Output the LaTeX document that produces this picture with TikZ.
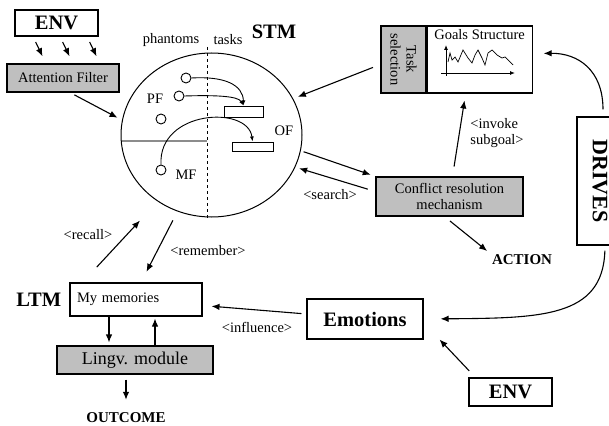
\documentclass[tikz,border=0pt]{standalone}
\usepackage{fontspec}
\setmainfont{Liberation Serif}
\usetikzlibrary{positioning, shapes.geometric, arrows.meta}
\definecolor{filler}{rgb}{0.75,0.75,0.75}
\definecolor{rule}{rgb}{0.55,0.55,0.55}

\begin{document}
\begin{tikzpicture}[
  x=1pt, y=-1pt,
  every node/.style={
    inner sep=0pt,
    font=\fontsize{14.5}{16}\selectfont,
  },
  box/.style={draw, line width=1.1pt, rectangle},
  greybox/.style={box, fill=filler},
  title/.style={font=\fontsize{20.5}{22}\selectfont\bfseries},
  capsword/.style={font=\fontsize{15}{17}\selectfont\bfseries},
  dot/.style={draw, circle, minimum size=10pt, line width=0.9pt},
  slot/.style={draw, rectangle, line width=1pt},
  arr/.style={line width=1.1pt, -{Latex[length=8pt, width=6.5pt]}},
  tinyarr/.style={line width=0.9pt, -{Latex[length=5pt, width=4pt]}},
]
\clip (0,0) rectangle (609,425);

% inputs
\node[box, title, minimum width=83pt, minimum height=26pt] (env1) at (56.5,23) {ENV};
\node[greybox, minimum width=112pt, minimum height=28pt] (att) at (63,78) {Attention Filter};
\foreach \a/\b in {-23.5/-17, 3.5/10, 30.5/37}
  \draw[arr, shorten <=6pt, shorten >=8pt] ([xshift=\a pt]env1.south) -- ([xshift=\b pt]att.north);

% short term memory
\node[draw, ellipse, line width=1pt, minimum width=181pt, minimum height=164pt] (stm) at (211.5,135) {};
\draw[dashed, line width=1pt] (207,47) -- (207,218);
\draw[rule, line width=1.3pt] (122,141) -- (207,141);
\node (ph) at (171,40) {phantoms};
\node (tk) at (228,40) {tasks};
\node[title] (stmlbl) at (274,32) {STM};

\node[dot] (pc1) at (186,78) {};
\node[dot] (pc2) at (179,96) {};
\node[dot] (pc3) at (161,119) {};
\node[dot] (mc) at (161,170) {};
\node (pf) at (155,99) {PF};
\node (mf) at (186,175) {MF};
\node (of) at (284,131) {OF};
\node[slot, minimum width=39pt, minimum height=11pt] (r1) at (243.5,111.5) {};
\node[slot, minimum width=41pt, minimum height=9pt] (r2) at (252.5,146.5) {};

\draw[tinyarr] (pc1.east) .. controls (225,76) and (243,85) .. (r1.north);
\draw[tinyarr] (pc2.east) .. controls (215,95) and (238,96) .. (r1.north);
\draw[tinyarr] (mc.north) .. controls (158,110) and (248,105) .. (r2.north);

% goals
\node[greybox, rotate=-90, align=center, minimum width=67pt, minimum height=45pt] (task) at (403.5,59.5) {Task\\selection};
\node[box, anchor=west, minimum width=105pt, minimum height=67pt] (gs) at (task.north) {};
\node[below=3.5pt of gs.north] (gtitle) {Goals Structure};
\draw[tinyarr] (446,76) -- (446,45);
\draw[tinyarr] (441,73) -- (515,73);
\draw[line width=0.7pt] (448,62) -- (450,53) -- (452,60) -- (455,57) -- (458,62) -- (463,50)
  -- (468,58) -- (472,63) -- (475,55) -- (478,50) -- (482,58) -- (485,65) -- (488,53)
  -- (492,50) -- (497,55) -- (502,58) -- (505,57) -- (510,62) -- (513,65);

\node[greybox, align=center, minimum width=147pt, minimum height=39pt] (conf) at (449.5,196.5) {Conflict resolution\\mechanism};
\node[capsword] (action) at (522,260) {ACTION};
\node[box, rotate=-90, font=\fontsize{22}{24}\selectfont\bfseries, minimum width=128pt, minimum height=46pt] (drives) at (600,181) {DRIVES};

\node (search) at (330,195) {<search>};
\node[align=left] (invoke) at (497,133) {<invoke\\subgoal>};

% emotions and long term memory
\node[box, title, minimum width=116pt, minimum height=40pt] (emo) at (365,319) {Emotions};
\node[box, title, minimum width=83pt, minimum height=28pt] (env2) at (510.5,392) {ENV};
\node[box, minimum width=132pt, minimum height=33pt, text width=118pt, align=left] (mem) at (136,299.5) {My memories};
\node[title, left=8pt of mem] (ltm) {LTM};
\node[greybox, font=\fontsize{18}{20}\selectfont, minimum width=156pt, minimum height=28pt] (lingv) at (135,360) {Lingv. module};
\node[capsword] (outcome) at (126,418) {OUTCOME};

\node (recall) at (88,235) {<recall>};
\node (remember) at (208,251) {<remember>};
\node (infl) at (257,327) {<influence>};

% connections
\draw[arr, shorten <=5pt] ([xshift=7pt]att.south) -- ([xshift=-5pt]stm.169);
\draw[arr, shorten <=8pt, shorten >=5pt] ([yshift=-5pt]task.south) -- (stm.24);
\draw[arr, shorten <=3pt, shorten >=5pt] (stm.-10) -- (conf.north west);
\draw[arr, shorten <=8pt, shorten >=4pt] ([yshift=5pt]conf.west) -- (stm.-21);
\draw[arr, shorten <=10pt, shorten >=7pt] ([xshift=3pt]conf.north) -- ([xshift=-14pt]gs.south);
\draw[arr, shorten <=7pt, shorten >=6pt] ([xshift=-5pt]conf.south) -- (action.north west);
\draw[arr, shorten <=7pt, shorten >=11pt] ([xshift=3pt]drives.west) .. controls (603,70) and (578,53) .. ([yshift=6pt]gs.east);
\draw[arr, shorten <=5pt, shorten >=17pt] ([xshift=5pt]drives.east) .. controls (603,318) and (540,318) .. (emo.east);
\draw[arr, shorten <=9pt] ([xshift=7pt]env2.north west) -- ([xshift=16pt]emo.south east);
\draw[arr, shorten <=5pt, shorten >=9pt] ([yshift=5pt]emo.west) -- ([yshift=-6pt]mem.east);
\draw[arr, shorten <=21pt, shorten >=26pt] ([xshift=-53.5pt]mem.north) -- (stm.-129);
\draw[arr, shorten <=10pt, shorten >=12pt] (stm.-114) -- ([xshift=5pt]mem.north);
\draw[arr, shorten >=3pt] ([xshift=-27pt]mem.south) -- ([xshift=-26pt]lingv.north);
\draw[arr, shorten >=2pt] ([xshift=20pt]lingv.north) -- ([xshift=19pt]mem.south);
\draw[arr, shorten <=5pt, shorten >=13pt] (outcome.north |- lingv.south) -- (outcome.north);

\end{tikzpicture}
\end{document}
